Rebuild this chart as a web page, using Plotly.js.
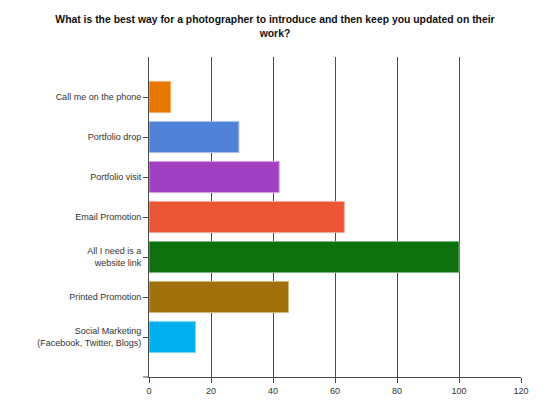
<!DOCTYPE html>
<html>
<head>
<meta charset="utf-8">
<script src="https://cdn.plot.ly/plotly-3.0.1.min.js"></script>
<style>html,body{margin:0;padding:0;background:#fff;}#chart{width:550px;height:412px;}</style>
</head>
<body>
<div id="chart"></div>
<script>
const categories = [
  "Call me on the phone",
  "Portfolio drop",
  "Portfolio visit",
  "Email Promotion",
  "All I need is a<br>website link",
  "Printed Promotion",
  "Social Marketing<br>(Facebook, Twitter, Blogs)"
];
const values = [7, 29, 42, 63, 100, 45, 15];
const barColors = ["#e97800", "#4f82d8", "#a140c2", "#e95535", "#0c700c", "#a0700a", "#00b0ee"];
const barEdges = ["#f5b070", "#a8c2ee", "#d4a0e4", "#f4a898", "#80b880", "#d0b880", "#80d8f8"];
const xTicks = [0, 20, 40, 60, 80, 100, 120];

const trace = {
  type: "bar",
  orientation: "h",
  y: categories,
  x: values,
  width: 0.78,
  marker: { color: barColors, line: { color: barEdges, width: 1 } },
  hoverinfo: "x+y"
};

const layout = {
  width: 550, height: 412,
  margin: { l: 149, r: 29, t: 57, b: 35 },
  paper_bgcolor: "#ffffff",
  plot_bgcolor: "#ffffff",
  showlegend: false,
  font: { family: "Liberation Sans, Arial, sans-serif", size: 9, color: "#333333" },
  title: {
    text: "What is the best way for a photographer to introduce and then keep you updated on their<br>work?",
    font: { family: "Liberation Sans, Arial, sans-serif", size: 10.4, color: "#111111", weight: "bold" },
    x: 0.5, xanchor: "center", y: 0.943, yanchor: "top"
  },
  xaxis: {
    range: [0, 120],
    tickvals: xTicks,
    ticktext: xTicks.map(String),
    showgrid: true, gridcolor: "#4a4a4a", gridwidth: 1,
    zeroline: false,
    showline: true, linecolor: "#4a4a4a", linewidth: 1,
    ticks: "outside", ticklen: 5, tickcolor: "#4a4a4a",
    tickfont: { size: 9, color: "#333333" },
    fixedrange: true
  },
  yaxis: {
    type: "category",
    categoryorder: "array",
    categoryarray: categories,
    range: [7, -1],
    showgrid: false,
    zeroline: false,
    showline: true, linecolor: "#4a4a4a", linewidth: 1,
    ticks: "outside", ticklen: 5, tickcolor: "#4a4a4a",
    tickfont: { size: 9, color: "#333333" },
    fixedrange: true
  },
  shapes: [
    { type: "line", xref: "paper", yref: "paper", x0: -0.016, x1: 0, y0: 0, y1: 0, line: { color: "#4a4a4a", width: 1 } }
  ]
};

Plotly.newPlot("chart", [trace], layout, { displayModeBar: false, staticPlot: true });
</script>
</body>
</html>
